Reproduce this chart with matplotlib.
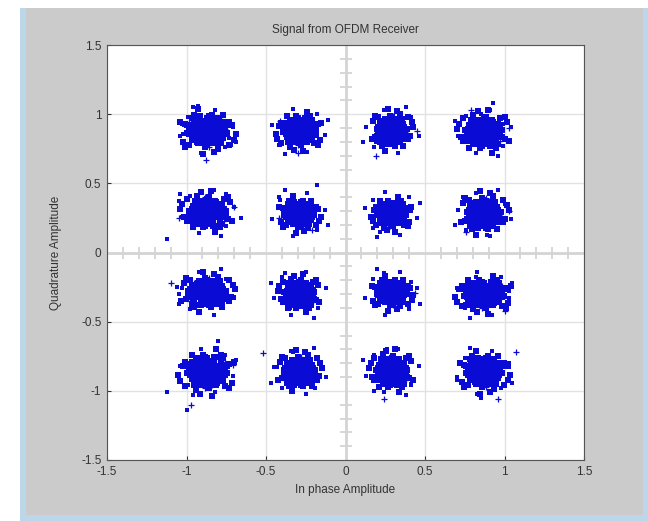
import numpy as np
import matplotlib.pyplot as plt
from matplotlib.patches import Rectangle

# 16-QAM constellation, cluster centres
center_i = [-0.87, -0.29, 0.29, 0.87, -0.87, -0.29, 0.29, 0.87,
            -0.87, -0.29, 0.29, 0.87, -0.87, -0.29, 0.29, 0.87]
center_q = [0.88, 0.88, 0.88, 0.87, 0.29, 0.28, 0.28, 0.28,
            -0.29, -0.30, -0.29, -0.30, -0.86, -0.86, -0.86, -0.86]
# how wide each cloud looks
spread_i = [1.4, 1.15, 1.05, 1.3, 1.3, 1.05, 1.0, 1.2,
            1.35, 1.05, 1.05, 1.4, 1.4, 1.1, 1.1, 1.25]
spread_q = [1.3, 1.15, 1.2, 1.25, 1.2, 1.05, 1.0, 1.25,
            1.15, 1.1, 1.0, 1.1, 1.35, 1.2, 1.25, 1.25]
# orientation of the cloud pattern in each cluster
flip_i = [1, -1, 1, -1, -1, 1, -1, 1, 1, -1, 1, -1, -1, 1, -1, 1]
flip_q = [1, 1, -1, -1, -1, 1, 1, -1, -1, -1, 1, 1, 1, -1, -1, 1]

# typed offsets of the dense core of one cloud
core_di = [0.00, 0.02, -0.01, -0.02, 0.01, 0.03, 0.00, -0.03, 0.01, -0.01, 0.02, -0.02, 0.03, -0.03, 0.02,
           0.05, 0.04, 0.01, -0.03, -0.05, -0.05, -0.04, -0.01, 0.03, 0.05, 0.06, 0.02, -0.02, -0.06, -0.03,
           0.01, 0.05, 0.04, -0.04, 0.06, -0.06, 0.00, 0.04, -0.04, 0.00,
           0.08, 0.07, 0.05, 0.01, -0.03, -0.06, -0.08, -0.08, -0.07, -0.04, 0.00, 0.04, 0.07, 0.09, 0.08,
           -0.09, -0.05, 0.06, -0.07, 0.11, -0.12, 0.03, -0.04, 0.10, -0.10, 0.13, -0.02,
           0.015, -0.015, 0.035, -0.035, 0.025, -0.025, 0.045, -0.045, 0.005, -0.005, 0.055, -0.055,
           0.07, -0.07, 0.00, 0.01, 0.06, -0.06, 0.06, -0.06, 0.03, -0.03, 0.03, -0.02, 0.09, -0.09,
           0.02, -0.01, 0.075, -0.075, 0.045, -0.045, 0.10, -0.10, 0.05, -0.06, 0.12, -0.11, 0.07, -0.08]
core_dq = [0.00, 0.01, 0.02, -0.01, -0.02, 0.00, 0.03, 0.01, 0.03, -0.03, -0.02, 0.02, 0.02, -0.02, 0.03,
           0.01, 0.04, 0.05, 0.04, 0.02, -0.01, -0.04, -0.05, -0.05, -0.03, 0.02, 0.06, 0.05, 0.00, -0.05,
           -0.06, -0.04, 0.05, 0.03, -0.01, -0.03, -0.04, 0.00, 0.00, 0.05,
           0.01, 0.05, 0.07, 0.08, 0.08, 0.06, 0.02, -0.02, -0.05, -0.07, -0.08, -0.07, -0.04, -0.01, 0.04,
           0.03, 0.08, -0.07, 0.07, 0.03, 0.05, -0.12, 0.12, -0.08, -0.09, -0.02, -0.13,
           0.035, -0.045, -0.015, 0.015, -0.035, 0.045, 0.025, -0.025, -0.055, 0.055, 0.005, -0.005,
           0.00, 0.01, 0.07, -0.07, 0.04, 0.04, -0.04, -0.05, 0.07, 0.07, -0.07, -0.07, 0.03, -0.01,
           0.09, -0.09, -0.02, 0.03, 0.06, -0.06, 0.05, 0.04, -0.10, 0.09, -0.05, -0.06, 0.09, -0.08]

# loose samples around a cloud
fringe_di = [0.16, 0.05, -0.12, -0.17, -0.04, 0.11, 0.18, -0.09]
fringe_dq = [0.03, 0.15, 0.10, -0.04, -0.16, -0.12, -0.08, 0.17]

# '+' samples inside a cloud
plus_di = [0.03, -0.05, 0.06, -0.02, 0.00, -0.07, 0.08, 0.02, -0.04, 0.05, -0.08, 0.01]
plus_dq = [0.06, 0.02, -0.05, -0.07, 0.04, -0.03, 0.01, -0.02, 0.07, 0.03, 0.05, -0.09]

# scattered samples away from the clouds
stray_dot_i = [-0.93, -1.03, -1.02, -0.73, -0.72, -0.19, -0.18, -0.42, 0.35, 0.19, 0.42, 0.93, 0.85, 0.99, 0.73,
               -1.12, -1.04, -0.75, -0.66, -0.18, -0.42, 0.17, 0.41, 0.22, 0.74, 1.00, 0.89,
               -1.06, -1.05, -0.70, -0.38, -0.17, -0.35, 0.24, 0.41, 0.18, 0.82, 1.03, 0.75,
               -0.80, -1.12, -0.72, -1.00, -0.43, -0.19, -0.33, 0.26, 0.41, 0.18, 0.85, 1.03, 0.70]
stray_dot_q = [1.06, 0.93, 0.86, 0.83, 0.78, 0.90, 0.84, 0.78, 1.00, 0.80, 0.92, 1.08, 1.00, 0.93, 0.80,
               0.10, 0.42, 0.42, 0.25, 0.49, 0.40, 0.38, 0.30, 0.15, 0.40, 0.35, 0.13,
               -0.25, -0.30, -0.32, -0.15, -0.36, -0.40, -0.15, -0.21, -0.37, -0.18, -0.28, -0.37,
               -0.64, -1.01, -0.95, -1.14, -0.83, -0.98, -0.72, -0.70, -0.95, -1.00, -1.05, -0.80, -0.92]
stray_plus_i = [-0.78, -0.88, -0.41, -0.30, 0.19, 0.45, 0.79, 1.03, -0.70, -1.05, -0.42, -0.21,
                0.76, 1.03, -0.95, -1.10, -0.21, 0.44, 1.00, 0.95, -0.97, -0.71, -0.52, 0.24, 1.07, 0.96]
stray_plus_q = [0.98, 0.67, 0.95, 0.72, 0.70, 0.88, 1.03, 0.90, 0.33, 0.25, 0.25, 0.16,
                0.15, 0.30, -0.22, -0.22, -0.25, -0.29, -0.42, -0.20, -1.10, -0.81, -0.73, -1.06, -0.72, -1.06]

ci = np.array(center_i)[:, None]
cq = np.array(center_q)[:, None]
si = (np.array(spread_i) * np.array(flip_i))[:, None]
sq = (np.array(spread_q) * np.array(flip_q))[:, None]
dot_i = (ci + si * np.array(core_di)).ravel()
dot_q = (cq + sq * np.array(core_dq)).ravel()
fr_i = (ci + np.array(flip_q)[:, None] * np.array(fringe_di)).ravel()
fr_q = (cq + np.array(flip_i)[:, None] * np.array(fringe_dq)).ravel()
pl_i = (ci + si * np.array(plus_di)).ravel()
pl_q = (cq + sq * np.array(plus_dq)).ravel()

plt.rcParams['font.family'] = ['Liberation Sans', 'DejaVu Sans']
plt.rcParams['axes.unicode_minus'] = False

fig = plt.figure(figsize=(6.48, 5.21), dpi=100, facecolor='white')
# window frame around the MATLAB figure
fig.patches.append(Rectangle((20 / 648, 0), 628 / 648, 1 - 8 / 521, transform=fig.transFigure,
                             facecolor='#bcd6ea', edgecolor='none', zorder=-10))
fig.patches.append(Rectangle((26 / 648, 6 / 521), 617 / 648, 1 - 14 / 521, transform=fig.transFigure,
                             facecolor='#cbcbcb', edgecolor='none', zorder=-9))

ax = fig.add_axes([107 / 648, 1 - 460 / 521, 477 / 648, 415 / 521])
ax.set_zorder(1)
blue = '#0b0bd6'
ax.plot(dot_i, dot_q, 's', color=blue, ms=4.3, mew=0, zorder=3)
ax.plot(fr_i, fr_q, 's', color=blue, ms=3.0, mew=0, zorder=3)
ax.plot(stray_dot_i, stray_dot_q, 's', color=blue, ms=3.2, mew=0, zorder=3)
ax.plot(pl_i, pl_q, '+', color=blue, ms=4.5, mew=0.9, zorder=3)
ax.plot(stray_plus_i, stray_plus_q, '+', color=blue, ms=4.5, mew=0.9, zorder=3)

# light cross through origin with small marks every 0.1
ax.axhline(0, color='#d4d4d4', lw=2, zorder=1)
ax.axvline(0, color='#d4d4d4', lw=2, zorder=1)
marks = [-1.4, -1.3, -1.2, -1.1, -0.9, -0.8, -0.7, -0.6, -0.4, -0.3, -0.2, -0.1,
         0.1, 0.2, 0.3, 0.4, 0.6, 0.7, 0.8, 0.9, 1.1, 1.2, 1.3, 1.4]
ax.plot(marks, [0] * len(marks), '|', color='#d4d4d4', ms=9, mew=1.3, zorder=1)
ax.plot([0] * len(marks), marks, '_', color='#d4d4d4', ms=9, mew=1.3, zorder=1)

ticks = [-1.5, -1, -0.5, 0, 0.5, 1, 1.5]
ax.set_xlim(-1.5, 1.5)
ax.set_ylim(-1.5, 1.5)
ax.set_xticks(ticks)
ax.set_yticks(ticks)
ax.set_xticklabels(['%g' % t for t in ticks])
ax.set_yticklabels(['%g' % t for t in ticks])
ax.grid(True, color='#e2e2e2', lw=1)
ax.set_axisbelow(True)
ax.tick_params(direction='in', length=3, labelsize=8.5, colors='#333333', pad=4)
for s in ax.spines.values():
    s.set_color('#555555')
    s.set_linewidth(0.8)

ax.set_title('Signal from OFDM Receiver', fontsize=8.5, color='#333333', pad=9)
ax.set_xlabel('In phase Amplitude', fontsize=8.5, color='#333333', labelpad=5)
ax.set_ylabel('Quadrature Amplitude', fontsize=8.5, color='#333333', labelpad=14)

fig.savefig('out.png', dpi=100, facecolor=fig.get_facecolor())
